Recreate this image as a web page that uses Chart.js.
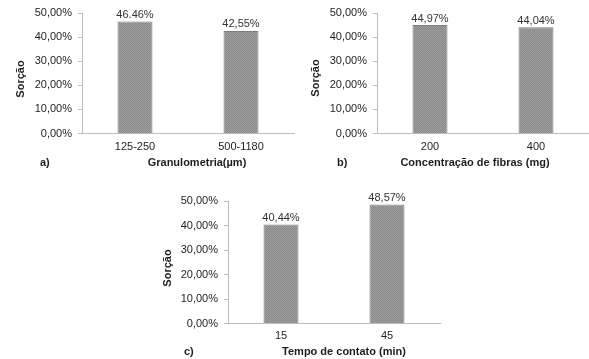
<!DOCTYPE html>
<html>
<head>
<meta charset="utf-8">
<script src="https://cdn.jsdelivr.net/npm/chart.js@4.4.0/dist/chart.umd.min.js"></script>
<style>
  html, body { margin: 0; padding: 0; background: #fff; width: 589px; height: 359px; overflow: hidden; }
  canvas { position: absolute; }
</style>
</head>
<body>
<canvas id="chartA" width="295" height="175" style="left:0;top:0"></canvas>
<canvas id="chartB" width="294" height="175" style="left:295px;top:0"></canvas>
<canvas id="chartC" width="296" height="179" style="left:150px;top:180px"></canvas>
<script>
// a) granulometria
const categoriesA = ['125-250', '500-1180'];
const valuesA = [46.46, 42.55];
const valueLabelsA = ['46.46%', '42,55%'];

// b) concentração de fibras
const categoriesB = ['200', '400'];
const valuesB = [44.97, 44.04];
const valueLabelsB = ['44,97%', '44,04%'];

// c) tempo de contato
const categoriesC = ['15', '45'];
const valuesC = [40.44, 48.57];
const valueLabelsC = ['40,44%', '48,57%'];

const yTicks = [0, 10, 20, 30, 40, 50];

const FONT = '"Liberation Sans", Arial, sans-serif';
const TEXT = '#1e1e1e';
const AXIS = '#bdbdbd';

// grainy grey fill like the scanned figure
function barPattern() {
    const c = document.createElement('canvas');
    c.width = 2; c.height = 2;
    const g = c.getContext('2d');
    g.fillStyle = '#8a8a8a'; g.fillRect(0, 0, 2, 2);
    g.fillStyle = '#9e9e9e'; g.fillRect(1, 0, 1, 1); g.fillRect(0, 1, 1, 1);
    return g.createPattern(c, 'repeat');
}

const captions = {
    id: 'captions',
    afterDraw(chart, args, o) {
        const ctx = chart.ctx;
        ctx.save();
        ctx.fillStyle = TEXT;
        ctx.font = 'bold 11px ' + FONT;
        ctx.textBaseline = 'middle';
        ctx.textAlign = 'left';
        ctx.fillText(o.letter, o.letterX, o.titleY);
        ctx.textAlign = 'center';
        ctx.fillText(o.title, o.titleX, o.titleY);
        ctx.save();
        ctx.translate(o.yTitleX, o.yTitleY);
        ctx.rotate(-Math.PI / 2);
        ctx.fillText('Sorção', 0, 0);
        ctx.restore();

        // value labels on top of the bars
        ctx.font = '11px ' + FONT;
        ctx.fillStyle = '#333';
        ctx.textBaseline = 'bottom';
        chart.getDatasetMeta(0).data.forEach((bar, i) => {
            ctx.fillText(o.valueLabels[i], bar.x, bar.y - 1);
        });
        ctx.restore();
    }
};

function makeChart(id, categories, values, cfg) {
    const ctx = document.getElementById(id).getContext('2d');
    return new Chart(ctx, {
        type: 'bar',
        data: {
            labels: categories,
            datasets: [{
                data: values,
                backgroundColor: barPattern(),
                borderColor: '#7c7c7c',
                borderWidth: 1,
                categoryPercentage: 1,
                barPercentage: 0.33
            }]
        },
        plugins: [captions],
        options: {
            responsive: false,
            animation: false,
            layout: {padding: cfg.padding},
            plugins: {
                legend: {display: false},
                tooltip: {enabled: false},
                captions: cfg.captions
            },
            scales: {
                x: {
                    grid: {display: false, drawTicks: false},
                    border: {display: true, color: AXIS, width: 1},
                    ticks: {color: TEXT, padding: cfg.xPad, font: {family: FONT, size: 11}},
                    afterFit: s => { s.height = cfg.xHeight; }
                },
                y: {
                    min: 0,
                    max: 50,
                    afterBuildTicks: s => { s.ticks = yTicks.map(v => ({value: v})); },
                    grid: {display: true, drawOnChartArea: false, drawTicks: true, tickLength: 4, color: AXIS},
                    border: {display: true, color: AXIS, width: 1},
                    ticks: {
                        color: TEXT,
                        padding: 6,
                        font: {family: FONT, size: 11},
                        callback: v => v.toFixed(2).replace('.', ',') + '%'
                    },
                    afterFit: s => { s.width = cfg.yWidth; }
                }
            }
        }
    });
}

makeChart('chartA', categoriesA, valuesA, {
    padding: {left: 0, right: 1, top: 13, bottom: 0},
    yWidth: 82, xHeight: 41.5, xPad: 7,
    captions: {letter: 'a)', letterX: 40, title: 'Granulometria(µm)', titleX: 197, titleY: 163,
        yTitleX: 21, yTitleY: 79, valueLabels: valueLabelsA}
});

makeChart('chartB', categoriesB, valuesB, {
    padding: {left: 0, right: 0, top: 13, bottom: 0},
    yWidth: 82, xHeight: 41.5, xPad: 7,
    captions: {letter: 'b)', letterX: 42, title: 'Concentração de fibras (mg)', titleX: 180, titleY: 163,
        yTitleX: 21, yTitleY: 78, valueLabels: valueLabelsB}
});

makeChart('chartC', categoriesC, valuesC, {
    padding: {left: 0, right: 6, top: 21, bottom: 0},
    yWidth: 78, xHeight: 35.5, xPad: 6,
    captions: {letter: 'c)', letterX: 34, title: 'Tempo de contato (min)', titleX: 194, titleY: 172,
        yTitleX: 18, yTitleY: 88, valueLabels: valueLabelsC}
});
</script>
</body>
</html>
